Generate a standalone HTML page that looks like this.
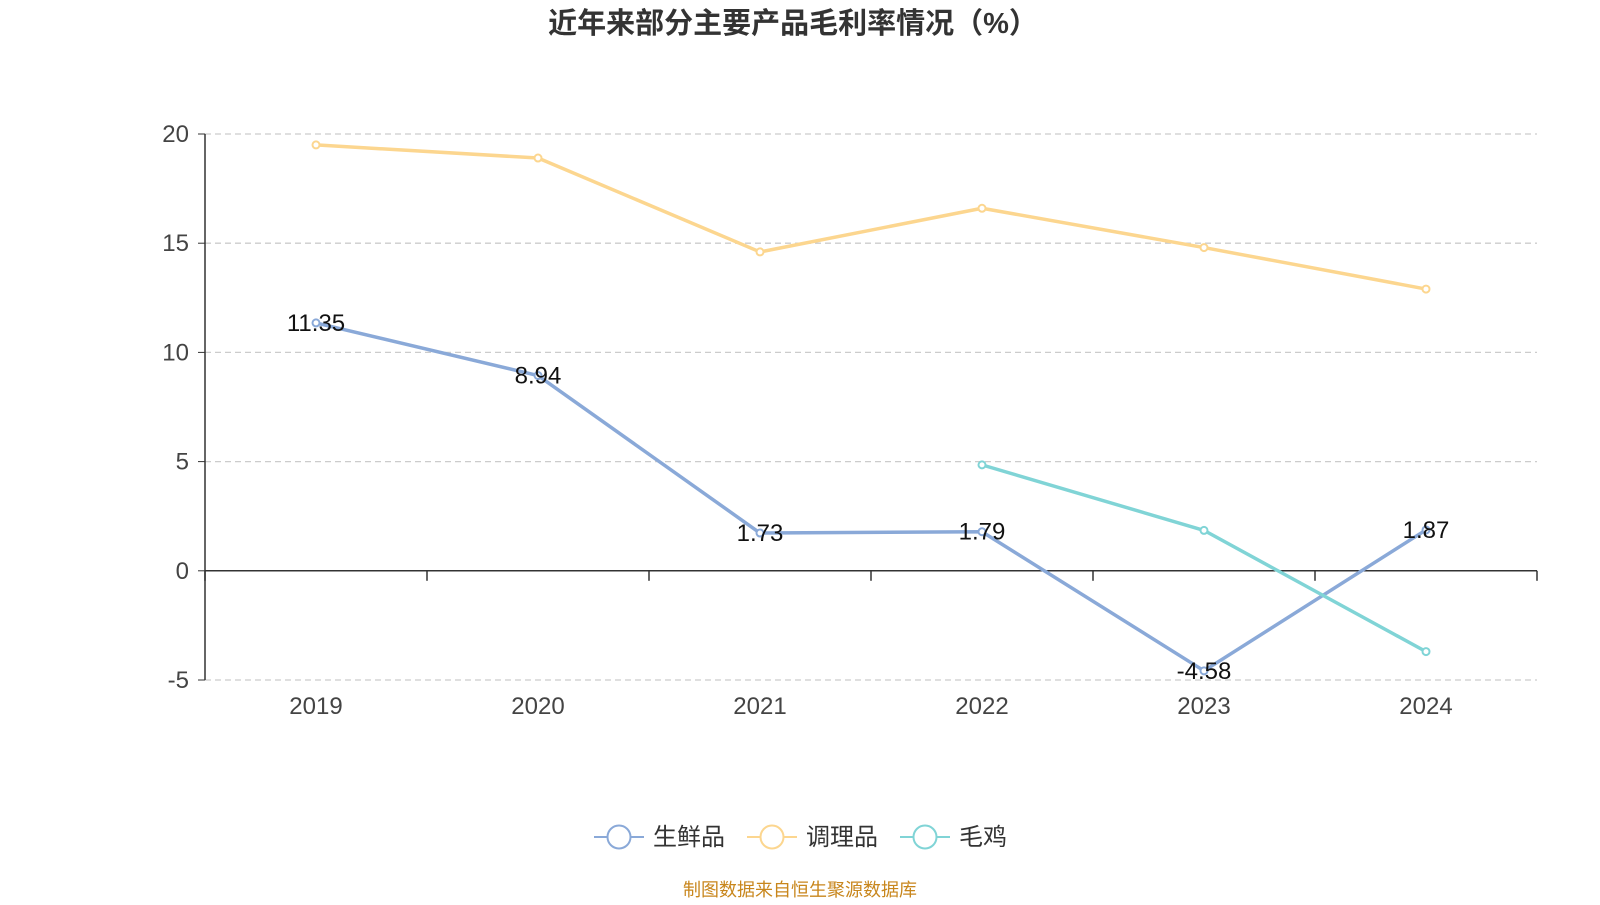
<!DOCTYPE html>
<html><head><meta charset="utf-8">
<style>
html,body{margin:0;padding:0;background:#fff;}
body{width:1600px;height:900px;overflow:hidden;font-family:"Liberation Sans","Noto Sans CJK SC",sans-serif;}
</style></head>
<body>
<svg id="chart" width="1600" height="900" xmlns="http://www.w3.org/2000/svg" font-family="Liberation Sans, Noto Sans CJK SC, sans-serif">
<text x="793" y="33" text-anchor="middle" font-size="29" font-weight="bold" fill="#333">近年来部分主要产品毛利率情况（%）</text>
<g id="grid"></g><g id="axes"></g><g id="series"></g><g id="legend"></g>
<text x="800" y="896" text-anchor="middle" font-size="18" fill="#c8861c">制图数据来自恒生聚源数据库</text>
</svg>
<script>
const categories=['2019','2020','2021','2022','2023','2024'];
const yTicks=[-5,0,5,10,15,20];
const freshValues=[11.35,8.94,1.73,1.79,-4.58,1.87];
const preparedValues=[19.5,18.9,14.6,16.6,14.8,12.9];
const chickenValues=[null,null,null,4.85,1.85,-3.7];
const seriesNames=['生鲜品','调理品','毛鸡'];
const colors=['#8aa9d8','#fcd68f','#80d4d6'];
const NS='http://www.w3.org/2000/svg';
const L=205,R=1537,T=134,B=680,yMin=-5,yMax=20;
const bw=(R-L)/categories.length;
function x(i){return L+bw*(i+0.5);}
function y(v){return B-(v-yMin)/(yMax-yMin)*(B-T);}
function mk(tag,attrs,parent){const e=document.createElementNS(NS,tag);for(const k in attrs)e.setAttribute(k,attrs[k]);parent.appendChild(e);return e;}
const grid=document.getElementById('grid'),axes=document.getElementById('axes'),ser=document.getElementById('series'),leg=document.getElementById('legend');
yTicks.forEach(t=>{
  const g=mk('line',{x1:L,x2:R,y1:y(t),y2:y(t),stroke:'#ccc','stroke-dasharray':'6,4','stroke-width':1.3},grid);
  
  
  const tk=mk('line',{x1:L-7,x2:L,y1:y(t),y2:y(t),stroke:'#333'},axes);
  
  
  const lb=mk('text',{x:L-16,y:y(t)+8,'text-anchor':'end','font-size':24,fill:'#444'},axes);
  lb.textContent=t;
  
  
});
const ya=mk('line',{x1:L,x2:L,y1:T,y2:B,stroke:'#333','stroke-width':1.5},axes);


const xa=mk('line',{x1:L,x2:R,y1:y(0),y2:y(0),stroke:'#333','stroke-width':1.5},axes);


for(let i=0;i<=categories.length;i++){
  const tk=mk('line',{x1:L+bw*i,x2:L+bw*i,y1:y(0),y2:y(0)+10,stroke:'#333','stroke-width':1.5},axes);
  
  
}
categories.forEach((c,i)=>{
  const lb=mk('text',{x:x(i),y:714,'text-anchor':'middle','font-size':24,fill:'#444'},axes);
  lb.textContent=c;
  
  
});
[freshValues,preparedValues,chickenValues].forEach((vals,s)=>{
  const pts=[];vals.forEach((v,i)=>{if(v!==null)pts.push([x(i),y(v),v]);});
  const pl=mk('polyline',{points:pts.map(p=>p[0]+','+p[1]).join(' '),fill:'none',stroke:colors[s],'stroke-width':3.5,'stroke-linejoin':'round'},ser);
  
  
  pts.forEach(p=>{
    const c=mk('circle',{cx:p[0],cy:p[1],r:3.5,fill:'#fff',stroke:colors[s],'stroke-width':2},ser);
    
    
    if(s===0){
      const t=mk('text',{x:p[0],y:p[1]+8,'text-anchor':'middle','font-size':24,fill:'#111'},ser);
      t.textContent=p[2].toFixed(2);
      
      
    }
  });
});
const lx=[594,747,900];
seriesNames.forEach((n,s)=>{
  const g=mk('g',{},leg);
  
  
  mk('line',{x1:lx[s],x2:lx[s]+50,y1:837,y2:837,stroke:colors[s],'stroke-width':2},g);
  mk('circle',{cx:lx[s]+25,cy:837,r:11.5,fill:'#fff',stroke:colors[s],'stroke-width':2},g);
  const t=mk('text',{x:lx[s]+59,y:845,'font-size':24,fill:'#333'},g);
  t.textContent=n;
});
</script>
</body></html>
